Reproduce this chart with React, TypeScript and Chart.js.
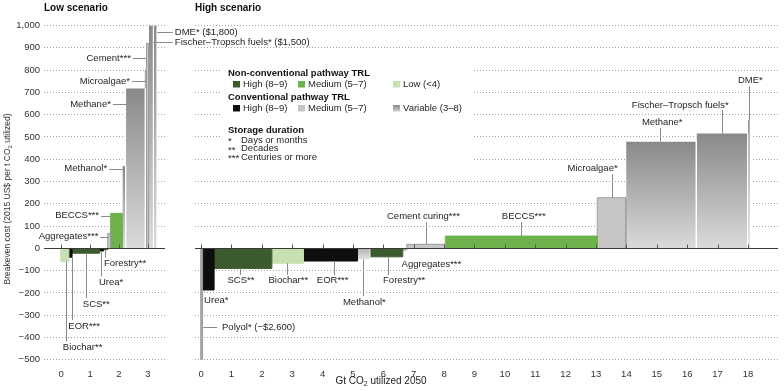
import React, { useEffect, useRef } from 'react';
import { Chart, registerables } from 'chart.js';

Chart.register(...registerables);

const W = 784;
const H = 391;
const FONT = '"Liberation Sans", Arial, "DejaVu Sans", sans-serif';

// ---------- data ----------
const yMin = -500;
const yMax = 1000;

// Low scenario (sorted by breakeven cost)
const lowNames = ['Biochar', 'EOR', 'SCS', 'Urea', 'Forestry', 'Aggregates', 'BECCS', 'Methanol', 'Methane', 'Microalgae', 'Cement', 'Fischer–Tropsch fuels', 'DME'];
const lowWidths = [0.27, 0.11, 0.95, 0.14, 0.14, 0.1, 0.4, 0.12, 0.68, 0.04, 0.07, 0.17, 0.13]; // Gt CO2
const lowCosts = [-60, -40, -22, -12, -6, 67, 157, 370, 718, 800, 920, 1500, 1800]; // US$/t
const lowTRL = ['nonLow', 'convHigh', 'nonHigh', 'convHigh', 'nonHigh', 'convMed', 'nonMed', 'variable', 'variable', 'convMed', 'convMed', 'variable', 'variable'];

// High scenario
const highNames = ['Polyol', 'Urea', 'SCS', 'Biochar', 'EOR', 'Methanol', 'Forestry', 'Aggregates', 'Cement curing', 'BECCS', 'Microalgae', 'Methane', 'Fischer–Tropsch fuels', 'DME'];
const highWidths = [0.05, 0.38, 1.9, 1.04, 1.78, 0.41, 1.08, 0.13, 1.27, 5.0, 0.94, 2.32, 1.69, 0.09];
const highCosts = [-2600, -187, -90, -67, -57, -49, -38, -8, 18, 55, 227, 479, 516, 576];
const highTRL = ['convMed', 'convHigh', 'nonHigh', 'nonLow', 'convHigh', 'variable', 'nonHigh', 'convMed', 'convMed', 'nonMed', 'convMed', 'variable', 'variable', 'variable'];

// ---------- styles ----------
const COLORS: Record<string, string> = {
  nonHigh: '#3c5b2c',
  nonMed: '#6eb24b',
  nonLow: '#c8e1b2',
  convHigh: '#0e0e0e',
  convMed: '#c6c6c6',
};

type Ann = { t: string; x: number; y: number; a: 'left' | 'right'; ln?: number[] };

const lowLabels: Ann[] = [
  { t: 'Cement***', x: 2.41, y: 855, a: 'right', ln: [2.48, 855, 2.95, 855] },
  { t: 'Microalgae*', x: 2.38, y: 751, a: 'right', ln: [2.45, 751, 2.93, 751] },
  { t: 'Methane*', x: 1.72, y: 648, a: 'right', ln: [1.79, 648, 2.28, 648] },
  { t: 'Methanol*', x: 1.59, y: 358, a: 'right', ln: [1.66, 358, 2.15, 358] },
  { t: 'BECCS***', x: 1.31, y: 146, a: 'right', ln: [1.38, 146, 1.72, 146] },
  { t: 'Aggregates***', x: 1.29, y: 52, a: 'right', ln: [1.35, 52, 1.64, 52] },
  { t: 'Forestry**', x: 1.48, y: -67, a: 'left', ln: [1.52, -8, 1.52, -42] },
  { t: 'Urea*', x: 1.31, y: -153, a: 'left', ln: [1.38, -12, 1.38, -126] },
  { t: 'SCS**', x: 0.75, y: -250, a: 'left', ln: [0.86, -22, 0.86, -223] },
  { t: 'EOR***', x: 0.25, y: -349, a: 'left', ln: [0.37, -40, 0.37, -322] },
  { t: 'Biochar**', x: 0.06, y: -445, a: 'left', ln: [0.17, -60, 0.17, -418] },
  { t: 'DME* ($1,800)', x: 3.93, y: 970, a: 'left', ln: [3.32, 970, 3.86, 970] },
  { t: 'Fischer–Tropsch fuels* ($1,500)', x: 3.93, y: 925, a: 'left', ln: [3.19, 925, 3.86, 925] },
];

const highLabels: Ann[] = [
  { t: 'Polyol* (−$2,600)', x: 0.69, y: -355, a: 'left', ln: [0.07, -355, 0.53, -355] },
  { t: 'Urea*', x: 0.1, y: -232, a: 'left' },
  { t: 'SCS**', x: 0.87, y: -145, a: 'left', ln: [1.28, -90, 1.28, -120] },
  { t: 'Biochar**', x: 2.22, y: -145, a: 'left', ln: [2.84, -67, 2.84, -120] },
  { t: 'EOR***', x: 3.81, y: -145, a: 'left', ln: [4.36, -57, 4.36, -120] },
  { t: 'Methanol*', x: 4.67, y: -244, a: 'left', ln: [5.34, -49, 5.34, -214] },
  { t: 'Forestry**', x: 5.99, y: -145, a: 'left', ln: [6.14, -38, 6.14, -120] },
  { t: 'Aggregates***', x: 6.6, y: -72, a: 'left' },
  { t: 'Cement curing***', x: 6.12, y: 142, a: 'left', ln: [7.41, 18, 7.41, 118] },
  { t: 'BECCS***', x: 9.9, y: 142, a: 'left', ln: [10.53, 55, 10.53, 118] },
  { t: 'Microalgae*', x: 12.06, y: 359, a: 'left', ln: [13.52, 227, 13.52, 333] },
  { t: 'Methane*', x: 14.51, y: 564, a: 'left', ln: [15.11, 479, 15.11, 540] },
  { t: 'Fischer–Tropsch fuels*', x: 14.18, y: 643, a: 'left', ln: [17.15, 516, 17.15, 621] },
  { t: 'DME*', x: 17.67, y: 756, a: 'left', ln: [18.05, 576, 18.05, 728] },
];

// ---------- helpers ----------
function vGrad(ctx: any, v: number) {
  const chart = ctx.chart;
  const ys = chart.scales && chart.scales.y;
  if (!chart.chartArea || !ys) return '#aaaaaa';
  const y0 = ys.getPixelForValue(0);
  const yv = ys.getPixelForValue(Math.max(yMin, Math.min(yMax, v)));
  const top = Math.min(y0, yv);
  const bot = Math.max(y0, yv);
  const g = chart.ctx.createLinearGradient(0, top, 0, bot + 0.01);
  if (v >= 0) {
    g.addColorStop(0, '#898989');
    g.addColorStop(1, '#dadada');
  } else {
    g.addColorStop(0, '#b0b0b0');
    g.addColorStop(1, '#e2e2e2');
  }
  return g;
}

function buildDatasets(names: string[], widths: number[], costs: number[], trl: string[]) {
  let x0 = 0;
  return widths.map((w, i) => {
    const x1 = x0 + w;
    const v = costs[i];
    const data = [
      { x: x0, y: 0 },
      { x: x0, y: v },
      { x: x1, y: v },
      { x: x1, y: 0 },
    ];
    x0 = x1;
    const kind = trl[i];
    const ds: any = {
      label: names[i],
      data,
      fill: 'origin',
      pointRadius: 0,
      pointHoverRadius: 0,
      tension: 0,
      borderWidth: 1,
    };
    if (kind === 'variable') {
      ds.backgroundColor = (c: any) => vGrad(c, v);
      ds.borderColor = 'rgba(0,0,0,0)';
      ds.segment = {
        borderColor: (s: any) => (s.p0.parsed.x === s.p1.parsed.x ? 'rgba(255,255,255,0.85)' : 'rgba(0,0,0,0)'),
      };
    } else if (kind === 'convMed') {
      ds.backgroundColor = COLORS[kind];
      ds.borderColor = '#9c9c9c';
    } else {
      ds.backgroundColor = COLORS[kind];
      ds.borderColor = COLORS[kind];
    }
    return ds;
  });
}

function fmtY(v: number) {
  if (v === 0) return '0';
  const s = Math.abs(v).toLocaleString('en-US');
  return v < 0 ? '−' + s : s;
}

type Part = { t: string; sub?: boolean };
function drawParts(ctx: CanvasRenderingContext2D, parts: Part[], x: number, y: number, size: number, align: 'left' | 'center', weight = 'normal') {
  const ws = parts.map((p) => {
    ctx.font = `${weight} ${p.sub ? size * 0.7 : size}px ${FONT}`;
    return ctx.measureText(p.t).width;
  });
  const total = ws.reduce((a, b) => a + b, 0);
  let cx = align === 'center' ? x - total / 2 : x;
  ctx.textAlign = 'left';
  ctx.textBaseline = 'middle';
  parts.forEach((p, i) => {
    ctx.font = `${weight} ${p.sub ? size * 0.7 : size}px ${FONT}`;
    ctx.fillText(p.t, cx, p.sub ? y + size * 0.28 : y);
    cx += ws[i];
  });
}

function makeOverlay(labels: Ann[], extra: (chart: any) => void) {
  return {
    id: 'overlay',
    afterDatasetsDraw(chart: any) {
      const { ctx, chartArea } = chart;
      const xs = chart.scales.x;
      const ys = chart.scales.y;
      const y0 = Math.round(ys.getPixelForValue(0)) + 0.5;
      ctx.save();
      // zero line
      ctx.strokeStyle = '#3a3a3a';
      ctx.lineWidth = 1.2;
      ctx.beginPath();
      ctx.moveTo(chartArea.left, y0);
      ctx.lineTo(chartArea.right, y0);
      ctx.stroke();
      // integer tick marks on zero line
      ctx.lineWidth = 1;
      ctx.strokeStyle = '#555';
      for (let v = Math.ceil(xs.min); v <= Math.floor(xs.max); v++) {
        const px = Math.round(xs.getPixelForValue(v)) + 0.5;
        ctx.beginPath();
        ctx.moveTo(px, y0);
        ctx.lineTo(px, y0 - 4);
        ctx.stroke();
      }
      // annotations
      ctx.strokeStyle = '#8a8a8a';
      ctx.lineWidth = 1;
      labels.forEach((l) => {
        if (l.ln) {
          const [a, b, c, d] = l.ln;
          const X1 = xs.getPixelForValue(a);
          const Y1 = ys.getPixelForValue(b);
          const X2 = xs.getPixelForValue(c);
          const Y2 = ys.getPixelForValue(d);
          const vert = Math.abs(X1 - X2) < 0.5;
          ctx.beginPath();
          if (vert) {
            const px = Math.round(X1) + 0.5;
            ctx.moveTo(px, Y1);
            ctx.lineTo(px, Y2);
          } else {
            const py = Math.round(Y1) + 0.5;
            ctx.moveTo(X1, py);
            ctx.lineTo(X2, py);
          }
          ctx.stroke();
        }
        ctx.fillStyle = '#1e1e1e';
        ctx.font = `9.5px ${FONT}`;
        ctx.textAlign = l.a;
        ctx.textBaseline = 'middle';
        ctx.fillText(l.t, xs.getPixelForValue(l.x), ys.getPixelForValue(l.y));
      });
      extra(chart);
      ctx.restore();
    },
  };
}

function drawLowExtras(chart: any) {
  const ctx = chart.ctx as CanvasRenderingContext2D;
  ctx.fillStyle = '#111';
  ctx.font = `bold 10px ${FONT}`;
  ctx.textAlign = 'left';
  ctx.textBaseline = 'middle';
  ctx.fillText('Low scenario', 44, 8);
  // y axis title
  ctx.save();
  ctx.translate(8, 199);
  ctx.rotate(-Math.PI / 2);
  ctx.fillStyle = '#333';
  drawParts(ctx, [{ t: 'Breakeven cost (2015 US$ per t CO' }, { t: '2', sub: true }, { t: ' utilized)' }], 0, 0, 8.5, 'center');
  ctx.restore();
}

function drawHighExtras(chart: any) {
  const ctx = chart.ctx as CanvasRenderingContext2D;
  ctx.fillStyle = '#111';
  ctx.font = `bold 10px ${FONT}`;
  ctx.textAlign = 'left';
  ctx.textBaseline = 'middle';
  ctx.fillText('High scenario', 195, 8);
  // x axis title
  ctx.fillStyle = '#222';
  drawParts(ctx, [{ t: 'Gt CO' }, { t: '2', sub: true }, { t: ' utilized 2050' }], 381, 381, 10, 'center');

  // legend
  ctx.fillStyle = '#ffffff';
  ctx.fillRect(221, 63, 252, 100);
  const bold = `bold 9.5px ${FONT}`;
  const reg = `9.5px ${FONT}`;
  ctx.fillStyle = '#111';
  ctx.font = bold;
  ctx.fillText('Non-conventional pathway TRL', 228, 73);
  ctx.fillText('Conventional pathway TRL', 228, 97);
  ctx.fillText('Storage duration', 228, 130);
  const row = (y: number, items: { fill: any; text: string; x: number }[]) => {
    items.forEach((it) => {
      ctx.fillStyle = it.fill;
      ctx.fillRect(it.x, y - 3, 7, 6.5);
      ctx.fillStyle = '#1e1e1e';
      ctx.font = reg;
      ctx.fillText(it.text, it.x + 10, y);
    });
  };
  row(84, [
    { fill: COLORS.nonHigh, text: 'High (8–9)', x: 233 },
    { fill: COLORS.nonMed, text: 'Medium (5–7)', x: 298 },
    { fill: COLORS.nonLow, text: 'Low (<4)', x: 393 },
  ]);
  const lg = ctx.createLinearGradient(0, 105, 0, 111.5);
  lg.addColorStop(0, '#8a8a8a');
  lg.addColorStop(1, '#cfcfcf');
  row(108, [
    { fill: COLORS.convHigh, text: 'High (8–9)', x: 233 },
    { fill: COLORS.convMed, text: 'Medium (5–7)', x: 298 },
    { fill: lg, text: 'Variable (3–8)', x: 393 },
  ]);
  ctx.fillStyle = '#1e1e1e';
  ctx.font = reg;
  const st = [
    ['*', 'Days or months', 140],
    ['**', 'Decades', 148.5],
    ['***', 'Centuries or more', 157.2],
  ];
  st.forEach(([a, b, y]) => {
    ctx.fillText(a as string, 228, (y as number) + 1.5);
    ctx.fillText(b as string, 241, y as number);
  });
}

function makeConfig(opts: {
  names: string[]; widths: number[]; costs: number[]; trl: string[];
  xMin: number; xMax: number; padding: any; yAxisWidth: number; showY: boolean;
  labels: Ann[]; extra: (c: any) => void;
}): any {
  const chartBottom = 359.7;
  return {
    type: 'line',
    data: { datasets: buildDatasets(opts.names, opts.widths, opts.costs, opts.trl) },
    options: {
      responsive: false,
      maintainAspectRatio: false,
      animation: false,
      devicePixelRatio: 1,
      events: [],
      layout: { padding: opts.padding },
      plugins: { legend: { display: false }, tooltip: { enabled: false }, title: { display: false } },
      scales: {
        x: {
          type: 'linear',
          min: opts.xMin,
          max: opts.xMax,
          grid: { display: false },
          border: { display: false },
          ticks: {
            stepSize: 1,
            includeBounds: false,
            autoSkip: false,
            maxRotation: 0,
            padding: 1,
            color: '#333',
            font: { family: FONT, size: 9.5 },
            callback: (v: number) => (Number.isInteger(v) ? String(v) : ''),
          },
          afterFit: (s: any) => {
            s.height = H - chartBottom;
          },
        },
        y: {
          type: 'linear',
          min: yMin,
          max: yMax,
          grid: {
            drawTicks: false,
            lineWidth: 1,
            color: (c: any) => (c.tick && c.tick.value === 0 ? 'rgba(0,0,0,0)' : '#a3a3a3'),
          },
          border: { display: false, dash: [1, 2] },
          ticks: {
            display: opts.showY,
            stepSize: 100,
            padding: 4,
            color: '#333',
            font: { family: FONT, size: 9.5 },
            callback: (v: number) => fmtY(v),
          },
          afterFit: (s: any) => {
            s.width = opts.yAxisWidth;
          },
        },
      },
    },
    plugins: [makeOverlay(opts.labels, opts.extra)],
  };
}

export default function App() {
  const lowRef = useRef<HTMLCanvasElement>(null);
  const highRef = useRef<HTMLCanvasElement>(null);

  useEffect(() => {
    const high = new Chart(
      highRef.current as HTMLCanvasElement,
      makeConfig({
        names: highNames, widths: highWidths, costs: highCosts, trl: highTRL,
        xMin: -0.2, xMax: 18.99,
        padding: { left: 195, right: 6, top: 25.6, bottom: 0 },
        yAxisWidth: 0, showY: false,
        labels: highLabels, extra: drawHighExtras,
      })
    );
    const low = new Chart(
      lowRef.current as HTMLCanvasElement,
      makeConfig({
        names: lowNames, widths: lowWidths, costs: lowCosts, trl: lowTRL,
        xMin: -0.59, xMax: 3.59,
        padding: { left: 0, right: W - 165, top: 25.6, bottom: 0 },
        yAxisWidth: 44, showY: true,
        labels: lowLabels, extra: drawLowExtras,
      })
    );
    return () => {
      low.destroy();
      high.destroy();
    };
  }, []);

  return (
    <div style={{ position: 'absolute', left: 0, top: 0, width: W, height: H, background: '#fff' }}>
      <canvas ref={highRef} width={W} height={H} style={{ position: 'absolute', left: 0, top: 0 }} />
      <canvas ref={lowRef} width={W} height={H} style={{ position: 'absolute', left: 0, top: 0 }} />
    </div>
  );
}
